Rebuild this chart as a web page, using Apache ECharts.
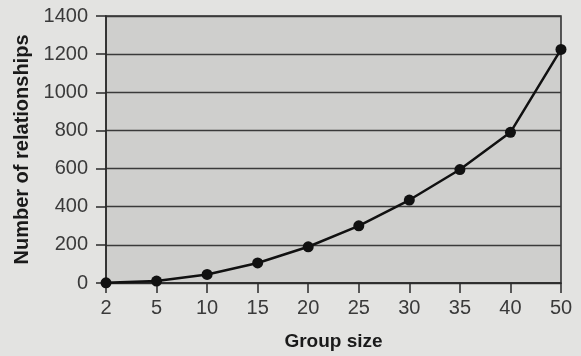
<!DOCTYPE html>
<html><head><meta charset="utf-8">
<script src="https://cdn.jsdelivr.net/npm/echarts@6/dist/echarts.min.js"></script>
<style>html,body{margin:0;padding:0;background:#e3e3e1;}#c{width:581px;height:356px;}</style>
</head><body><div id="c"></div>
<script>
const categories = ['2','5','10','15','20','25','30','35','40','50'];
const relationships = [1, 10, 45, 105, 190, 300, 435, 595, 790, 1225];
const yTicks = [0, 200, 400, 600, 800, 1000, 1200, 1400];

const chart = echarts.init(document.getElementById('c'));
chart.setOption({
  backgroundColor: '#e3e3e1',
  animation: false,
  grid: {left: 106, right: 20, top: 16, bottom: 73, show: true, backgroundColor: '#cfcfcd', borderColor: '#2a2a2a', borderWidth: 1.5},
  xAxis: {
    type: 'category', data: categories, boundaryGap: false,
    name: 'Group size', nameLocation: 'middle', nameGap: 49,
    nameTextStyle: {fontFamily: 'Liberation Sans', fontWeight: 'bold', fontSize: 19, color: '#1a1a1a'},
    axisLine: {lineStyle: {color: '#2a2a2a', width: 1.5}},
    axisTick: {show: true, length: 10, alignWithLabel: true, lineStyle: {color: '#2a2a2a', width: 1.5}},
    axisLabel: {fontFamily: 'Liberation Sans', fontSize: 20, color: '#3a3a3a', margin: 15},
    splitLine: {show: false}
  },
  yAxis: {
    type: 'value', min: yTicks[0], max: yTicks[yTicks.length-1], interval: 200,
    name: 'Number of relationships', nameLocation: 'middle', nameGap: 71,
    nameTextStyle: {fontFamily: 'Liberation Sans', fontWeight: 'bold', fontSize: 20, color: '#1a1a1a'},
    axisLine: {show: true, lineStyle: {color: '#2a2a2a', width: 1.5}},
    axisTick: {show: true, length: 10, lineStyle: {color: '#2a2a2a', width: 1.5}},
    axisLabel: {fontFamily: 'Liberation Sans', fontSize: 20, color: '#3a3a3a', margin: 18, formatter: v => String(v)},
    splitLine: {show: true, lineStyle: {color: '#3a3a3a', width: 1.3}}
  },
  series: [{
    type: 'line', data: relationships, smooth: false,
    symbol: 'circle', symbolSize: 11,
    lineStyle: {color: '#111', width: 2.5},
    itemStyle: {color: '#111'}
  }]
});
</script></body></html>
